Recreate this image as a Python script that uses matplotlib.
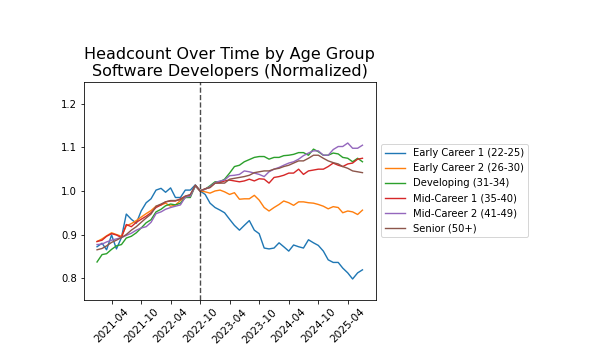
import matplotlib
matplotlib.use("Agg")
import matplotlib.pyplot as plt
import matplotlib.dates as mdates
import pandas as pd

dates = pd.date_range("2021-01-01", "2025-07-01", freq="MS")

labels = ["Early Career 1 (22-25)", "Early Career 2 (26-30)", "Developing (31-34)",
          "Mid-Career 1 (35-40)", "Mid-Career 2 (41-49)", "Senior (50+)"]

early1 = [0.872, 0.880, 0.865, 0.899, 0.867, 0.893, 0.947, 0.935, 0.926, 0.954, 0.973,
          0.982, 1.002, 1.006, 0.997, 1.007, 0.985, 0.985, 1.002, 1.002, 1.014, 1.000,
          0.992, 0.972, 0.962, 0.956, 0.950, 0.935, 0.921, 0.910, 0.921, 0.932, 0.910,
          0.902, 0.869, 0.867, 0.869, 0.881, 0.872, 0.862, 0.876, 0.872, 0.869, 0.888,
          0.881, 0.875, 0.862, 0.842, 0.836, 0.836, 0.823, 0.812, 0.798, 0.812, 0.819]
early2 = [0.884, 0.890, 0.897, 0.904, 0.900, 0.896, 0.920, 0.925, 0.932, 0.940, 0.948,
          0.955, 0.965, 0.968, 0.972, 0.965, 0.968, 0.978, 0.985, 0.990, 1.012, 1.000,
          0.998, 0.995, 1.000, 1.002, 0.998, 0.992, 0.996, 0.981, 0.982, 0.982, 0.990,
          0.979, 0.962, 0.954, 0.962, 0.969, 0.977, 0.973, 0.967, 0.975, 0.975, 0.973,
          0.972, 0.969, 0.965, 0.959, 0.964, 0.962, 0.950, 0.954, 0.952, 0.946, 0.956]
developing = [0.837, 0.854, 0.856, 0.866, 0.874, 0.877, 0.892, 0.896, 0.904, 0.915, 0.927,
              0.934, 0.952, 0.958, 0.966, 0.970, 0.968, 0.972, 0.985, 0.985, 1.012, 1.000,
              1.004, 1.012, 1.021, 1.021, 1.027, 1.041, 1.056, 1.059, 1.067, 1.072, 1.077,
              1.079, 1.079, 1.073, 1.077, 1.077, 1.081, 1.082, 1.084, 1.088, 1.088, 1.082,
              1.096, 1.090, 1.082, 1.082, 1.087, 1.085, 1.077, 1.075, 1.067, 1.075, 1.067]
mid1 = [0.884, 0.887, 0.896, 0.902, 0.899, 0.893, 0.923, 0.918, 0.928, 0.935, 0.942,
        0.950, 0.962, 0.968, 0.975, 0.977, 0.977, 0.982, 0.988, 0.990, 1.013, 1.000,
        1.005, 1.008, 1.018, 1.019, 1.023, 1.025, 1.023, 1.021, 1.023, 1.027, 1.023,
        1.028, 1.027, 1.018, 1.031, 1.033, 1.036, 1.041, 1.041, 1.050, 1.038, 1.046,
        1.048, 1.050, 1.050, 1.056, 1.064, 1.059, 1.056, 1.062, 1.064, 1.073, 1.075]
mid2 = [0.877, 0.878, 0.883, 0.887, 0.890, 0.893, 0.898, 0.903, 0.910, 0.915, 0.918,
        0.928, 0.948, 0.952, 0.958, 0.962, 0.965, 0.968, 0.986, 0.988, 1.012, 1.000,
        1.004, 1.010, 1.019, 1.023, 1.025, 1.035, 1.036, 1.038, 1.046, 1.044, 1.041,
        1.038, 1.033, 1.044, 1.050, 1.054, 1.059, 1.064, 1.067, 1.073, 1.081, 1.087,
        1.092, 1.092, 1.082, 1.082, 1.095, 1.102, 1.102, 1.110, 1.098, 1.098, 1.105]
senior = [0.865, 0.868, 0.874, 0.882, 0.887, 0.893, 0.900, 0.910, 0.918, 0.928, 0.938,
          0.947, 0.965, 0.970, 0.975, 0.978, 0.978, 0.980, 0.988, 0.992, 1.013, 1.000,
          1.005, 1.008, 1.018, 1.018, 1.018, 1.027, 1.029, 1.031, 1.033, 1.036, 1.042,
          1.044, 1.046, 1.046, 1.050, 1.052, 1.056, 1.059, 1.064, 1.069, 1.069, 1.075,
          1.082, 1.082, 1.075, 1.069, 1.065, 1.062, 1.056, 1.052, 1.046, 1.044, 1.042]

series = [early1, early2, developing, mid1, mid2, senior]
event_date = pd.Timestamp("2022-10-01")

fig = plt.figure(figsize=(607 / 72, 352 / 72), dpi=72)
ax = fig.add_axes([0.138, 0.148, 0.481, 0.619])

for lab, vals in zip(labels, series):
    ax.plot(dates, vals, label=lab, linewidth=1.4)

ax.axvline(event_date, color="black", linestyle="--", alpha=0.7, linewidth=1.4)
ax.set_ylim(0.75, 1.25)
ax.set_yticks([0.8, 0.9, 1.0, 1.1, 1.2])
ax.xaxis.set_major_locator(mdates.MonthLocator(bymonth=[4, 10]))
ax.xaxis.set_major_formatter(mdates.DateFormatter("%Y-%m"))
plt.setp(ax.get_xticklabels(), rotation=45, fontsize=10.5)
ax.set_title("Headcount Over Time by Age Group\nSoftware Developers (Normalized)", fontsize=16)
ax.set_xlabel("Date", labelpad=7)
ax.legend(loc="center left", bbox_to_anchor=(1.0, 0.5))

fig.savefig("out.png", dpi=72)
